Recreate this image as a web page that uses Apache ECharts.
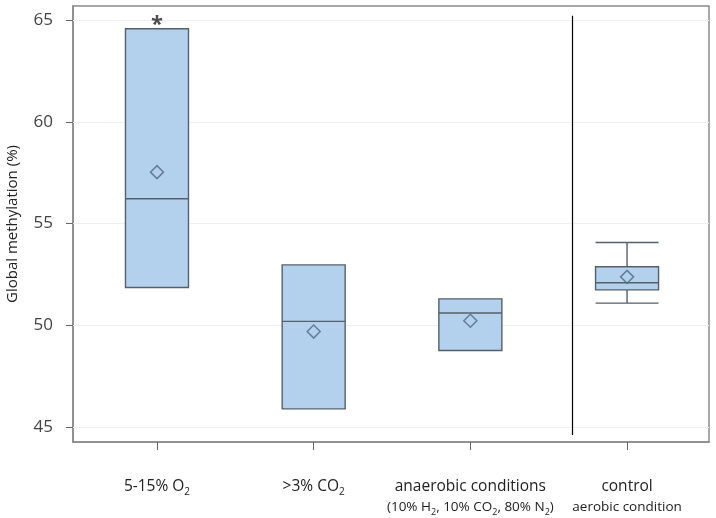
<!DOCTYPE html>
<html><head><meta charset="utf-8">
<script src="https://cdn.jsdelivr.net/npm/echarts@6/dist/echarts.min.js"></script>
<style>html,body{margin:0;padding:0;background:#fff}#c{width:716px;height:518px}</style>
</head><body><div id="c"></div>
<script>
const categories = ['5-15% O₂', '>3% CO₂', 'anaerobic conditions', 'control'];
const subLabels = ['', '', '(10% H₂, 10% CO₂, 80% N₂)', 'aerobic condition'];
const xPositions = [0, 1, 2, 3];
// [min, Q1, median, Q3, max]
const boxValues = [
  [51.86, 51.86, 56.22, 64.58, 64.58],
  [45.89, 45.89, 50.19, 52.97, 52.97],
  [48.76, 48.76, 50.60, 51.30, 51.30],
  [51.09, 51.74, 52.09, 52.88, 54.07]
];
const meanValues = [57.53, 49.69, 50.22, 52.38];
const significance = ['*', '', '', ''];
const yTicks = [45, 50, 55, 60, 65];
const separatorX = 2.65;
const separatorRange = [44.6, 65.22];

const FONT = '"Open Sans", sans-serif';
function toRich(str, base) {
  const parts = str.split('₂');
  let out = '';
  parts.forEach((p, i) => {
    if (p) out += '{' + base + '|' + p + '}';
    if (i < parts.length - 1) out += '{' + base + 's|2}';
  });
  return out;
}

const chart = echarts.init(document.getElementById('c'), null, {renderer: 'canvas'});
chart.setOption({
  animation: false,
  backgroundColor: '#fff',
  grid: {left: 73, right: 7, top: 6, bottom: 76, show: true, borderColor: '#8a8a8a', borderWidth: 1.5,
         containLabel: false, outerBoundsMode: 'none'},
  xAxis: {
    type: 'value', min: -0.536, max: 3.523,
    axisLine: {show: true, onZero: false, lineStyle: {color: '#8a8a8a', width: 1.5}},
    axisTick: {show: true, customValues: xPositions, length: 8, lineStyle: {color: '#666'}},
    splitLine: {show: false},
    axisLabel: {
      customValues: xPositions, margin: 35,
      formatter: v => {
        const i = Math.round(v);
        let s = toRich(categories[i], 'a');
        if (subLabels[i]) s += '\n' + toRich(subLabels[i], 'b');
        return s;
      },
      rich: {
        a: {fontFamily: FONT, fontSize: 15.5, lineHeight: 20, color: '#222'},
        as: {fontFamily: FONT, fontSize: 10, lineHeight: 10, verticalAlign: 'bottom', color: '#222'},
        b: {fontFamily: FONT, fontSize: 13.5, lineHeight: 20, color: '#222'},
        bs: {fontFamily: FONT, fontSize: 9, lineHeight: 10, verticalAlign: 'bottom', color: '#222'}
      }
    }
  },
  yAxis: {
    type: 'value', min: 44.26, max: 65.7,
    name: 'Global methylation (%)', nameLocation: 'middle', nameGap: 53,
    nameTextStyle: {fontFamily: FONT, fontSize: 15, color: '#222'},
    axisLine: {show: true, onZero: false, lineStyle: {color: '#8a8a8a', width: 1.5}},
    axisTick: {show: true, customValues: yTicks, length: 7, lineStyle: {color: '#666'}},
    splitLine: {show: false},
    axisLabel: {customValues: yTicks, margin: 20, fontFamily: FONT, fontSize: 17, color: '#444'}
  },
  series: [
    {
      type: 'boxplot', z: 2,
      boxWidth: [63, 63],
      data: xPositions.map((x, i) => [x].concat(boxValues[i])),
      itemStyle: {color: '#b3d1ec', borderColor: '#56606a', borderWidth: 1.4},
      markLine: {
        z: 1, silent: true, symbol: 'none', label: {show: false},
        lineStyle: {color: '#efefef', width: 1, type: 'solid'},
        data: yTicks.map(v => ({yAxis: v}))
      }
    },
    {
      type: 'scatter', z: 3,
      symbol: 'diamond', symbolSize: 13,
      data: xPositions.map((x, i) => [x, meanValues[i]]),
      itemStyle: {color: 'rgba(0,0,0,0)', borderColor: '#4f6a85', borderWidth: 1.5},
      markLine: {
        silent: true, symbol: 'none', label: {show: false},
        lineStyle: {color: '#000', width: 1.2, type: 'solid'},
        data: [[{coord: [separatorX, separatorRange[1]]}, {coord: [separatorX, separatorRange[0]]}]]
      }
    },
    {
      type: 'scatter', z: 4, symbolSize: 0,
      data: xPositions.map((x, i) => significance[i] ? [x, boxValues[i][4]] : null).filter(d => d),
      label: {
        show: true, position: 'top', distance: 0, offset: [0, 7],
        formatter: p => significance[p.data[0]],
        fontFamily: FONT, fontSize: 22, fontWeight: 'bold', color: '#222'
      }
    }
  ]
});
</script></body></html>
